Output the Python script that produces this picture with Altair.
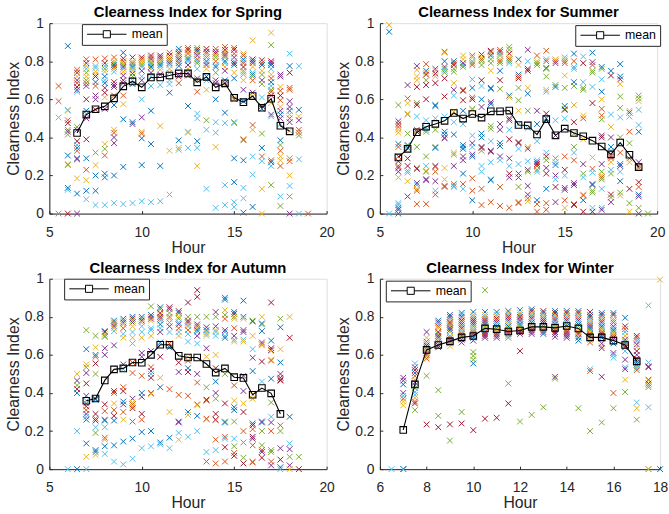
import altair as alt
import pandas as pd

FONT = "Liberation Sans"
AXC = "#262626"
PALETTE = {"b": "#0072BD", "o": "#D95319", "y": "#EDB120", "p": "#7E2F8E",
           "g": "#77AC30", "c": "#4DBEEE", "r": "#A2142F"}

# ---------------- Spring ----------------
spring_hours = [5.5, 6, 6.5, 7, 7.5, 8, 8.5, 9, 9.5, 10, 10.5, 11, 11.5, 12,
                12.5, 13, 13.5, 14, 14.5, 15, 15.5, 16, 16.5, 17, 17.5, 18, 18.5, 19]
spring_points = [
    "0.67o 0.59o 0.505c 0g",
    "0.88b 0.545c 0.54y 0.49o 0.475r 0.44g 0.43p 0.415g 0.305b 0.26y 0.255g 0.135b 0.125c 0r",
    "0.755o 0.74r 0.72y 0.70p 0.685o 0.665r 0.65p 0.64c 0.455g 0.44p 0.38r 0.36c 0.345b 0.33o 0.29b 0.285p 0.185y 0.105b 0p",
    "0.81o 0.79r 0.775y 0.76c 0.74g 0.72y 0.70g 0.685o 0.67p 0.60r 0.54b 0.525g 0.50p 0.39r 0.29b 0.23o 0.175y 0.12b 0.075c",
    "0.81o 0.775c 0.765c 0.745y 0.73y 0.72r 0.69b 0.67o 0.62p 0.60p 0.545r 0.32g 0.255y 0.20b 0.12b 0.045c",
    "0.815o 0.79r 0.775c 0.76g 0.745y 0.72b 0.70c 0.685b 0.66p 0.635r 0.61y 0.55p 0.365y 0.34g 0.305o 0.21b 0.19b 0.045c",
    "0.82o 0.80y 0.79g 0.78b 0.77o 0.76y 0.745c 0.69r 0.675p 0.665p 0.62o 0.57b 0.44y 0.425o 0.40p 0.37p 0.20b 0.055c",
    "0.845b 0.815r 0.80o 0.79y 0.78g 0.77p 0.76c 0.745y 0.725p 0.70r 0.685p 0.62o 0.575y 0.495b 0.245b 0.05c",
    "0.82r 0.80y 0.79o 0.78g 0.77b 0.76c 0.75y 0.735p 0.72g 0.70c 0.68b 0.48b 0.47p 0.055c",
    "0.82r 0.81o 0.80y 0.79y 0.78g 0.77c 0.75p 0.72c 0.70p 0.60c 0.505p 0.43y 0.42o 0.395b 0.255b 0.065c",
    "0.83r 0.82o 0.81p 0.80y 0.79g 0.78c 0.77b 0.76y 0.74p 0.72c 0.67c 0.54b 0.365b 0.06c",
    "0.83r 0.82p 0.81o 0.80y 0.79g 0.78b 0.77c 0.755y 0.73p 0.675c 0.46y 0.25b 0.065c",
    "0.845o 0.83r 0.82y 0.81o 0.80g 0.79p 0.78c 0.76y 0.74c 0.70c 0.68c 0.635b 0.33y 0.10c",
    "0.865b 0.85o 0.84r 0.83y 0.82g 0.81p 0.80c 0.79o 0.775b 0.73p 0.72r 0.685o 0.385b 0.345y 0.335c",
    "0.87o 0.86r 0.85y 0.84o 0.82g 0.81b 0.80c 0.78p 0.76y 0.74p 0.725r 0.565b 0.43c 0.425y 0.345c",
    "0.87g 0.86r 0.85b 0.84y 0.83p 0.81o 0.80c 0.79g 0.76c 0.71p 0.70g 0.64o 0.525c 0.50c 0.38b 0.345c 0.25y",
    "0.865r 0.85r 0.84o 0.83y 0.82g 0.80b 0.79c 0.78p 0.76y 0.72b 0.70c 0.65y 0.49g 0.44c 0.13c",
    "0.865o 0.85p 0.84r 0.83y 0.82g 0.80o 0.78c 0.77b 0.74g 0.70p 0.685p 0.60b 0.48c 0.425c 0.35y 0.03c",
    "0.875o 0.86r 0.85y 0.84o 0.83p 0.82g 0.80b 0.79c 0.77y 0.75p 0.70b 0.685p 0.675y 0.53b 0.475c 0.15c 0.045c",
    "0.87o 0.86r 0.84o 0.82p 0.80c 0.79r 0.78b 0.74y 0.71b 0.61y 0.60o 0.48g 0.475c 0.29b 0.165b 0.06c 0.035c",
    "0.84y 0.83o 0.81b 0.80c 0.79o 0.77r 0.75g 0.74y 0.73c 0.70y 0.65p 0.59b 0.39o 0.385g 0.28b 0.135c 0.08c 0.005b",
    "0.91y 0.81r 0.80b 0.79p 0.77y 0.74c 0.73b 0.72g 0.70o 0.635p 0.615y 0.465o 0.44y 0.30c 0.205c 0.035b",
    "0.805r 0.79o 0.78b 0.75y 0.73g 0.70p 0.68g 0.61c 0.565p 0.55b 0.42g 0.345b 0.30o 0.275c 0.13y 0y",
    "0.95y 0.885g 0.80r 0.79p 0.78b 0.76c 0.73y 0.71o 0.69b 0.67c 0.65g 0.64o 0.62r 0.58y 0.52p 0.51c 0.28o 0.27b 0.25c 0.15g",
    "0.73p 0.72p 0.665y 0.645o 0.62r 0.595o 0.56y 0.54p 0.52b 0.50p 0.47c 0.385b 0.36g 0.33o 0.30y 0.28y 0.25o 0.09c 0.04g",
    "0.84c 0.775b 0.74r 0.66o 0.65o 0.59p 0.56p 0.54b 0.52y 0.50o 0.48p 0.435y 0.29g 0.275o 0.20y 0.145c 0.09g 0p",
    "0.775c 0.545b 0.51y 0.49p 0.44o 0.425o 0.41g 0.285c 0c",
    "0o",
]
spring_mean_hours = [6.5, 7, 7.5, 8, 8.5, 9, 9.5, 10, 10.5, 11, 11.5, 12, 12.5,
                     13, 13.5, 14, 14.5, 15, 15.5, 16, 16.5, 17, 17.5, 18]
spring_mean = [0.423, 0.52, 0.548, 0.563, 0.605, 0.668, 0.694, 0.663, 0.715, 0.715,
               0.725, 0.736, 0.736, 0.689, 0.718, 0.663, 0.684, 0.608, 0.585, 0.617,
               0.556, 0.603, 0.461, 0.432]

# ---------------- Summer ----------------
summer_hours = [5.5, 6, 6.5, 7, 7.5, 8, 8.5, 9, 9.5, 10, 10.5, 11, 11.5, 12, 12.5,
                13, 13.5, 14, 14.5, 15, 15.5, 16, 16.5, 17, 17.5, 18, 18.5, 19, 19.5]
summer_points = [
    "0.99y 0.955b 0c",
    "0.57g 0.485p 0.47r 0.455o 0.44y 0.425y 0.365b 0.35o 0.30o 0.275r 0.25o 0.24p 0.22p 0.19y 0.055c 0.045c 0.03b 0.02p 0b",
    "0.675p 0.605o 0.58y 0.525y 0.52c 0.42g 0.36b 0.355g 0.345b 0.29r 0.25r 0.225c 0.215c 0.17y 0.09p",
    "0.775p 0.755y 0.72y 0.70y 0.665r 0.58g 0.57r 0.51c 0.44o 0.43r 0.35g 0.24g 0.235r 0.16p 0.15c 0.13y 0.12o 0.05o",
    "0.785o 0.75b 0.74y 0.73r 0.70g 0.675r 0.60r 0.49c 0.45c 0.44c 0.43g 0.30g 0.25c 0.225y 0.22g 0.18p 0.175p 0.05o",
    "0.76p 0.75y 0.735r 0.72y 0.685r 0.57b 0.565b 0.50c 0.44g 0.35g 0.345b 0.25p 0.245o 0.22o 0.17p 0.12c 0.10o",
    "0.85o 0.845y 0.80b 0.77p 0.76g 0.75c 0.74g 0.71r 0.615r 0.51c 0.43b 0.415b 0.40g 0.395p 0.24y 0.18y 0.145p 0.14o",
    "0.80b 0.79o 0.78r 0.76g 0.745g 0.685y 0.65p 0.62c 0.535y 0.48c 0.415b 0.32y 0.31g 0.25p 0.155o 0.145c 0.14c",
    "0.83y 0.81y 0.79p 0.78c 0.77g 0.65o 0.645r 0.595r 0.54b 0.47c 0.36b 0.35c 0.34b 0.30p 0.28p 0.21b 0.155o 0.13c",
    "0.83o 0.82y 0.80c 0.79g 0.78o 0.705c 0.66b 0.61o 0.60r 0.55g 0.545y 0.41c 0.37p 0.35c 0.31p 0.30b 0.185o 0.12o 0.07b",
    "0.835p 0.82y 0.81o 0.80g 0.78g 0.70r 0.67c 0.60b 0.56p 0.42b 0.40b 0.35p 0.345r 0.33g 0.25c 0.22c 0.13o 0.045o",
    "0.855r 0.85o 0.84y 0.83b 0.81g 0.79g 0.75y 0.66b 0.655b 0.585p 0.575b 0.46g 0.445g 0.38c 0.33p 0.325r 0.27c 0.18c 0.175b 0.06o",
    "0.86o 0.85r 0.84c 0.83g 0.81y 0.80o 0.79g 0.75b 0.70r 0.655g 0.47p 0.44p 0.37b 0.355b 0.30p 0.28c 0.14o 0.04o",
    "0.875g 0.86g 0.84r 0.82y 0.81o 0.80g 0.79c 0.62b 0.61y 0.50r 0.49p 0.44c 0.39r 0.29p 0.25c 0.21r 0.19p 0.03o",
    "0.81b 0.78y 0.73b 0.72o 0.71r 0.66g 0.595g 0.54y 0.47c 0.375r 0.37r 0.34c 0.26c 0.21p 0.19p 0.14g 0.06o 0.055o",
    "0.86p 0.80c 0.76r 0.75r 0.66y 0.63b 0.54g 0.45c 0.35y 0.34p 0.275c 0.23p 0.22g 0.145p 0.10p 0.08o 0.065y",
    "0.83o 0.80y 0.79g 0.78g 0.54p 0.47b 0.38c 0.28c 0.27p 0.26r 0.25o 0.23g 0.22c 0.07b 0.05o 0.01o",
    "0.855o 0.81c 0.80o 0.765b 0.76g 0.72g 0.65y 0.64c 0.525r 0.50b 0.32c 0.30r 0.28g 0.24p 0.21r 0.13b 0.055o 0.02o",
    "0.81y 0.80o 0.79p 0.675g 0.665b 0.49c 0.41p 0.29g 0.27c 0.255b 0.20p 0.18c 0.14r 0.06p",
    "0.82c 0.81y 0.80g 0.79o 0.725y 0.66g 0.565b 0.55g 0.545r 0.50c 0.30o 0.23r 0.20c 0.135p 0.125p 0.07o 0.03y",
    "0.84b 0.80o 0.77c 0.76c 0.69b 0.67g 0.57y 0.48r 0.42g 0.35g 0.32c 0.28o 0.16p 0.15p 0.05o 0.045r",
    "0.825c 0.79r 0.69c 0.66g 0.65g 0.515y 0.50o 0.39y 0.26p 0.21g 0.19c 0.10y 0.095o 0.07b 0.01r",
    "0.845b 0.795p 0.78o 0.75g 0.74g 0.665c 0.58r 0.295y 0.235o 0.215c 0.155p 0.15b 0.12g 0.11g 0.03c 0.01r",
    "0.77b 0.76g 0.705c 0.64b 0.60y 0.55o 0.515o 0.495g 0.41p 0.40r 0.26p 0.22g 0.20y 0.19o 0.18g 0.13c 0.03c 0.02p",
    "0.75b 0.725r 0.52c 0.455y 0.40p 0.35b 0.33c 0.30r 0.29o 0.27y 0.23c 0.21g 0.10r 0.085g 0.06p",
    "0.785b 0.72b 0.705r 0.68y 0.615g 0.555g 0.505c 0.40g 0.32o 0.26b 0.25p 0.22c 0.17b 0.11g 0.095y",
    "0.54y 0.53b 0.51c 0.43o 0.37g 0.29o 0.27y 0.13r 0.055g 0.01y",
    "0.62g 0.605g 0.59y 0.545c 0.465c 0.43b 0.27p 0.25o 0.24o 0.165r 0.14o 0.10b 0.09p 0.03g 0p",
    "0g",
]
summer_mean_hours = [6, 6.5, 7, 7.5, 8, 8.5, 9, 9.5, 10, 10.5, 11, 11.5, 12, 12.5,
                     13, 13.5, 14, 14.5, 15, 15.5, 16, 16.5, 17, 17.5, 18, 18.5, 19]
summer_mean = [0.295, 0.34, 0.427, 0.456, 0.471, 0.487, 0.528, 0.499, 0.523, 0.504,
               0.537, 0.537, 0.541, 0.465, 0.463, 0.415, 0.496, 0.411, 0.446, 0.423,
               0.406, 0.383, 0.352, 0.311, 0.373, 0.309, 0.244]

# ---------------- Autumn ----------------
autumn_hours = [6, 6.5, 7, 7.5, 8, 8.5, 9, 9.5, 10, 10.5, 11, 11.5, 12, 12.5, 13,
                13.5, 14, 14.5, 15, 15.5, 16, 16.5, 17, 17.5, 18, 18.5]
autumn_points = [
    "0c",
    "0.50y 0.465p 0.44g 0.42r 0.40b 0.20c 0b",
    "0.73g 0.63b 0.55y 0.535g 0.505p 0.45r 0.385p 0.36c 0.345o 0.33r 0.31o 0.29p 0.275c 0.26b 0.135b 0.065y 0c",
    "0.70g 0.64y 0.60b 0.59o 0.555r 0.50g 0.37p 0.365b 0.29r 0.265o 0.255r 0.22c 0.19g 0.10b 0.09b 0.075y",
    "0.725b 0.72r 0.71y 0.70c 0.695g 0.635p 0.60p 0.34r 0.305o 0.26o 0.255b 0.22c 0.165o 0.155y 0.12b 0.08c",
    "0.78b 0.77o 0.76g 0.75p 0.74y 0.725c 0.65p 0.41r 0.40o 0.345y 0.31o 0.28r 0.255b 0.125b 0.04c",
    "0.79b 0.78g 0.77p 0.76y 0.74o 0.71c 0.69y 0.55p 0.525c 0.43o 0.41r 0.355b 0.34p 0.30o 0.26y 0.145b 0.025c",
    "0.80b 0.79r 0.78g 0.77p 0.75y 0.72c 0.69y 0.66c 0.56o 0.505o 0.37p 0.35y 0.34o 0.33y 0.32r 0.25o 0.16b 0.055c",
    "0.80b 0.79g 0.78r 0.77y 0.75c 0.72c 0.69y 0.61p 0.59p 0.49o 0.40b 0.38p 0.29r 0.26o 0.195b 0.11c",
    "0.855g 0.81b 0.80o 0.79p 0.78y 0.74c 0.73c 0.70y 0.62p 0.535o 0.515p 0.50c 0.48r 0.40o 0.395y 0.20b 0.12c",
    "0.85b 0.84g 0.82r 0.81y 0.80p 0.79o 0.78c 0.76b 0.74c 0.72p 0.665b 0.59r 0.48y 0.43b 0.14b 0.13c",
    "0.85r 0.84p 0.82g 0.80o 0.79y 0.77c 0.75p 0.72c 0.66o 0.64b 0.42o 0.30y 0.165b 0.11c",
    "0.83r 0.82b 0.80y 0.79g 0.77c 0.76p 0.74o 0.72c 0.70y 0.56r 0.51p 0.39o 0.25b 0.245p 0.19c 0.155y",
    "0.875r 0.80g 0.78r 0.77p 0.76y 0.75c 0.73o 0.71c 0.67c 0.59y 0.57o 0.53b 0.51r 0.385o 0.30b 0.285y 0.17c",
    "0.94r 0.905r 0.80g 0.76p 0.75o 0.74y 0.73b 0.72c 0.70p 0.66c 0.50p 0.455o 0.34o 0.335y 0.28b 0.20c",
    "0.80g 0.745p 0.73b 0.72y 0.71c 0.70y 0.635p 0.59y 0.43g 0.365r 0.36o 0.265o 0.26y 0.09c 0.04o",
    "0.825p 0.80g 0.75p 0.73y 0.72c 0.70c 0.60y 0.53r 0.46b 0.40p 0.37g 0.29r 0.26r 0.255y 0.155o 0.10c 0.03o",
    "0.90b 0.89b 0.835y 0.81g 0.79o 0.73p 0.72c 0.70c 0.69b 0.50g 0.345r 0.25g 0.245b 0.17o 0.16c 0.115r 0.04o",
    "0.825b 0.815r 0.80g 0.79y 0.74o 0.70p 0.68c 0.67y 0.44o 0.36y 0.325b 0.31b 0.25g 0.16c 0.12g 0.085o 0.07r",
    "0.885b 0.80b 0.79y 0.73p 0.72p 0.68c 0.67y 0.49p 0.41p 0.345y 0.30r 0.20o 0.14g 0.06g 0.03r",
    "0.78g 0.775b 0.70y 0.63c 0.585p 0.515b 0.39y 0.37y 0.24b 0.23r 0.21o 0.17r 0.16p 0.125o 0.04g 0.035o",
    "0.80y 0.765b 0.76g 0.725b 0.665p 0.655o 0.65y 0.565r 0.46c 0.25p 0.245b 0.20g 0.125g 0.10o 0.09p 0.06r",
    "0.875r 0.675b 0.635r 0.625p 0.62y 0.575y 0.57o 0.475b 0.35g 0.275c 0.245p 0.20o 0.10g 0.09g 0.04o 0.02p",
    "0.79g 0.745b 0.63y 0.56b 0.50p 0.48r 0.47o 0.465r 0.23o 0.20g 0.11p 0.05r 0.01b 0c",
    "0.80y 0.69r 0.275b 0.135c 0.105p 0.065g 0.02p 0y",
    "0.065g 0r",
]
autumn_mean_hours = [7, 7.5, 8, 8.5, 9, 9.5, 10, 10.5, 11, 11.5, 12, 12.5, 13, 13.5,
                     14, 14.5, 15, 15.5, 16, 16.5, 17, 17.5]
autumn_mean = [0.359, 0.371, 0.466, 0.524, 0.529, 0.56, 0.559, 0.6, 0.653, 0.653,
               0.595, 0.586, 0.586, 0.552, 0.507, 0.529, 0.483, 0.479, 0.391, 0.426,
               0.398, 0.29]

# ---------------- Winter ----------------
winter_hours = [6.5, 7, 7.5, 8, 8.5, 9, 9.5, 10, 10.5, 11, 11.5, 12, 12.5, 13,
                13.5, 14, 14.5, 15, 15.5, 16, 16.5, 17, 17.5, 18]
winter_points = [
    "0c",
    "0.48p 0.465p 0.445b 0.40p 0.385c 0.37o 0.355y 0.335y 0g 0y 0r 0b 0c",
    "0.555c 0.535p 0.52r 0.505b 0.49o 0.47y 0.455p 0.44b 0.425g 0.405c 0.39c 0.375y 0.355o 0.345r 0.31g",
    "0.72p 0.69y 0.67o 0.66c 0.65r 0.64b 0.63g 0.62y 0.61o 0.60p 0.59y 0.58o 0.49g 0.235r",
    "0.78b 0.77p 0.76c 0.75o 0.74y 0.72r 0.71g 0.70p 0.69b 0.68y 0.67o 0.66c 0.65r 0.64p 0.415g 0.28g 0.22r",
    "0.81b 0.80p 0.79c 0.78y 0.77r 0.76o 0.75g 0.74p 0.73b 0.72y 0.70c 0.69o 0.68r 0.67p 0.66g 0.645y 0.235r 0.15g",
    "0.82b 0.81c 0.80p 0.79y 0.78r 0.77o 0.76b 0.75g 0.74p 0.73y 0.72c 0.71o 0.70r 0.69g 0.68p 0.665p 0.30g 0.24r",
    "0.825b 0.81y 0.80c 0.79o 0.78r 0.77p 0.76b 0.75g 0.74y 0.73c 0.72o 0.71p 0.70r 0.69b 0.675p 0.615g 0.595g 0.575g 0.555b 0.205r",
    "0.94g 0.825b 0.81y 0.80c 0.79o 0.78r 0.77p 0.76b 0.75g 0.74y 0.73c 0.72o 0.71p 0.70r 0.69p 0.265r",
    "0.825b 0.81c 0.80y 0.79r 0.78o 0.77p 0.76c 0.75b 0.74g 0.73y 0.72o 0.71r 0.70p 0.69p 0.27r",
    "0.83b 0.82y 0.81c 0.80r 0.79o 0.78p 0.77c 0.76y 0.75b 0.74g 0.73o 0.72r 0.71p 0.70c 0.69g 0.45g 0.345r",
    "0.835b 0.82y 0.81c 0.80r 0.79o 0.78p 0.77c 0.76b 0.75g 0.74y 0.73o 0.72r 0.71p 0.62r 0.25g",
    "0.84b 0.83r 0.82y 0.81c 0.80o 0.79p 0.78c 0.77b 0.76g 0.75y 0.74o 0.73r 0.72p 0.71p 0.285g",
    "0.83r 0.82b 0.81y 0.80c 0.79o 0.78p 0.77r 0.76b 0.75g 0.74y 0.73o 0.72p 0.71b 0.325g",
    "0.83b 0.82r 0.81y 0.80c 0.79o 0.78p 0.77c 0.76b 0.75g 0.74y 0.73o 0.72r 0.71p 0.695p 0.485p 0.475g",
    "0.83b 0.82r 0.81y 0.80c 0.79o 0.78p 0.77c 0.76g 0.75b 0.74y 0.73o 0.72r 0.71p 0.70p 0.69p",
    "0.83b 0.82r 0.81y 0.80c 0.79o 0.78p 0.77c 0.76b 0.75g 0.73y 0.72o 0.71r 0.70y 0.69b 0.675b 0.32g",
    "0.825r 0.81b 0.80r 0.79c 0.78y 0.77c 0.76o 0.75p 0.74b 0.73g 0.72y 0.71o 0.70r 0.69c 0.68y 0.665o 0.525c 0.515o 0.20g",
    "0.82b 0.81r 0.80c 0.79y 0.78o 0.77p 0.76c 0.75b 0.74g 0.73y 0.72o 0.71r 0.70p 0.69b 0.66p 0.645y 0.635p 0.485p 0.245g",
    "0.82b 0.81r 0.79y 0.78c 0.77o 0.75p 0.74c 0.73b 0.72g 0.71y 0.70o 0.69r 0.68p 0.66b 0.61p 0.60c 0.585c 0.40o 0.32g",
    "0.795b 0.75r 0.735o 0.72c 0.70y 0.68p 0.67g 0.66b 0.65o 0.64r 0.62c 0.575p 0.535c 0.525p 0.47y 0.405g",
    "0.70r 0.69o 0.68c 0.67c 0.655p 0.64y 0.62r 0.60p 0.58r 0.57o 0.56b 0.55b 0.54g 0.53c 0.52o 0.35c 0.32y 0.26g",
    "0.86c 0.56c 0.54p 0.535r 0.47o 0.465y 0.45p 0.44g 0.43g 0.325c 0g 0y",
    "0.995y 0b",
]
winter_mean_hours = [7, 7.5, 8, 8.5, 9, 9.5, 10, 10.5, 11, 11.5, 12, 12.5, 13,
                     13.5, 14, 14.5, 15, 15.5, 16, 16.5, 17]
winter_mean = [0.206, 0.445, 0.626, 0.652, 0.671, 0.692, 0.699, 0.739, 0.735, 0.723,
               0.728, 0.747, 0.747, 0.742, 0.752, 0.739, 0.692, 0.692, 0.675, 0.652,
               0.566]

Y_TICKS = [0, 0.2, 0.4, 0.6, 0.8, 1]
X_SHAPE = "M-1,-1L1,1M-1,1L1,-1"
LEGEND_SYMBOL = "M-5,0L-0.9,0M0.9,0L5,0M-0.9,-0.9L0.9,-0.9L0.9,0.9L-0.9,0.9Z"
H = 193


def build_points(hours, strings):
    rows = []
    for h, s in zip(hours, strings):
        for tok in s.split():
            rows.append({"hour": h, "ci": float(tok[:-1]), "col": PALETTE[tok[-1]]})
    return pd.DataFrame(rows)


def panel(season, hours, strings, mhours, mvals, xdom, xticks, lx, ly, width):
    pts_df = build_points(hours, strings)
    mean_df = pd.DataFrame({"hour": mhours, "ci": mvals, "series": ["mean"] * len(mhours)})
    xs = alt.Scale(domain=xdom, nice=False, zero=False)
    ys = alt.Scale(domain=[0, 1], nice=False, zero=False)

    main_x = alt.X("hour:Q", scale=xs, axis=alt.Axis(
        values=xticks, title="Hour", ticks=False, grid=False, labelFlush=False,
        labelFontSize=14, titleFontSize=16, labelPadding=12, titlePadding=0,
        titleFontWeight="normal", labelColor=AXC, titleColor=AXC, domainColor=AXC,
        labelFont=FONT, titleFont=FONT))
    main_y = alt.Y("ci:Q", scale=ys, axis=alt.Axis(
        values=Y_TICKS, format=".1~f", title="Clearness Index", ticks=False, grid=False,
        labelFlush=False, labelFontSize=14, titleFontSize=16, labelPadding=6,
        titlePadding=3, titleFontWeight="normal", labelColor=AXC, titleColor=AXC,
        domainColor=AXC, labelFont=FONT, titleFont=FONT))

    scatter = alt.Chart(pts_df).mark_point(
        shape=X_SHAPE, filled=False, size=34, strokeWidth=1, opacity=1
    ).encode(x=main_x, y=main_y, color=alt.Color("col:N", scale=None))

    line = alt.Chart(mean_df).mark_line(strokeWidth=1.1).encode(
        x=alt.X("hour:Q", scale=xs, axis=None),
        y=alt.Y("ci:Q", scale=ys, axis=None),
        stroke=alt.Stroke("series:N", scale=alt.Scale(domain=["mean"], range=["black"]),
                          legend=alt.Legend(
                              title=None, orient="none", legendX=lx, legendY=ly,
                              symbolType=LEGEND_SYMBOL, symbolSize=64, symbolOffset=15,
                              symbolStrokeWidth=1, symbolStrokeColor="black",
                              symbolFillColor="white", labelOffset=19,
                              labelFontSize=12.5, labelFont=FONT, labelColor="black",
                              padding=4, strokeColor=AXC, fillColor="white",
                              cornerRadius=0)))

    squares = alt.Chart(mean_df).mark_point(
        shape="square", filled=False, size=44, strokeWidth=1.1, color="black", opacity=1
    ).encode(x=alt.X("hour:Q", scale=xs, axis=None), y=alt.Y("ci:Q", scale=ys, axis=None))

    tick_layer = alt.Chart(mean_df).mark_point(opacity=0).encode(
        x=alt.X("hour:Q", scale=xs, axis=alt.Axis(
            orient="bottom", offset=-3, tickSize=3, labels=False, domain=False,
            title=None, grid=False, values=xticks, tickColor=AXC)),
        y=alt.Y("ci:Q", scale=ys, axis=alt.Axis(
            orient="left", offset=-3, tickSize=3, labels=False, domain=False,
            title=None, grid=False, values=Y_TICKS, tickColor=AXC)))

    return alt.layer(scatter, line, squares, tick_layer).resolve_axis(
        x="independent", y="independent"
    ).properties(
        width=width, height=H,
        title=alt.TitleParams(f"Clearness Index for {season}", fontSize=15,
                              fontWeight="bold", font=FONT, color="black",
                              anchor="middle", frame="group", offset=-4))


spring = panel("Spring", spring_hours, spring_points, spring_mean_hours, spring_mean,
               [5, 20], [5, 10, 15, 20], 33, 1, 281)
summer = panel("Summer", summer_hours, summer_points, summer_mean_hours, summer_mean,
               [5, 20], [5, 10, 15, 20], 198, 2, 281)
autumn = panel("Autumn", autumn_hours, autumn_points, autumn_mean_hours, autumn_mean,
               [5, 20], [5, 10, 15, 20], 15, 0, 281)
winter = panel("Winter", winter_hours, winter_points, winter_mean_hours, winter_mean,
               [6, 18], [6, 8, 10, 12, 14, 16, 18], 6, 2, 284)

chart = alt.concat(spring, summer, autumn, winter, columns=2,
                   spacing={"row": 66, "column": 54}, bounds="flush").resolve_scale(
    stroke="independent").resolve_legend(stroke="independent").properties(
    padding={"left": 5, "top": 1, "right": 0, "bottom": 0}
).configure_view(stroke=None).configure(background="white")

chart.save("out.html", embed_options={"renderer": "svg", "actions": False})
